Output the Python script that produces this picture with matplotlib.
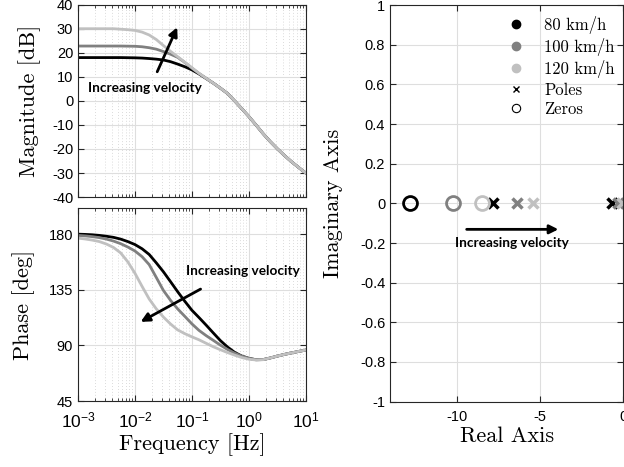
import numpy as np
import matplotlib
matplotlib.use("Agg")
import matplotlib.pyplot as plt
from matplotlib.ticker import FixedLocator, LogLocator, NullFormatter, FixedFormatter

plt.rcParams['font.family'] = ['Liberation Sans', 'DejaVu Sans']
plt.rcParams['mathtext.fontset'] = 'custom'
plt.rcParams['mathtext.rm'] = 'Liberation Sans'
plt.rcParams['mathtext.it'] = 'Liberation Sans:italic'
plt.rcParams['axes.unicode_minus'] = False

# ---- Bode data: log10 of frequency in Hz, 1/8-decade steps ----
log_freq = [-3.0, -2.875, -2.75, -2.625, -2.5, -2.375, -2.25, -2.125,
            -2.0, -1.875, -1.75, -1.625, -1.5, -1.375, -1.25, -1.125,
            -1.0, -0.875, -0.75, -0.625, -0.5, -0.375, -0.25, -0.125,
            0.0, 0.125, 0.25, 0.375, 0.5, 0.625, 0.75, 0.875, 1.0]

mag_80 = [18.0, 18.0, 18.0, 18.0, 18.0, 18.0, 18.0, 17.95,
          17.9, 17.8, 17.6, 17.35, 17.0, 16.3, 15.3, 14.2,
          12.9, 11.2, 9.3, 7.4, 5.3, 3.1, 0.0, -3.2,
          -6.5, -10.0, -13.6, -16.9, -19.9, -22.7, -25.3, -27.7, -30.0]
mag_100 = [22.8, 22.8, 22.8, 22.8, 22.8, 22.8, 22.8, 22.75,
           22.7, 22.5, 22.1, 21.5, 20.5, 19.4, 18.1, 16.0,
           13.6, 11.4, 9.4, 7.4, 5.3, 3.1, 0.0, -3.2,
           -6.5, -10.0, -13.6, -16.9, -19.9, -22.7, -25.3, -27.7, -30.0]
mag_120 = [30.0, 30.0, 30.0, 30.0, 30.0, 30.0, 29.8, 29.6,
           29.3, 28.6, 27.4, 25.5, 23.0, 20.6, 18.4, 16.1,
           13.8, 11.5, 9.4, 7.4, 5.3, 3.1, 0.0, -3.2,
           -6.5, -10.0, -13.6, -16.9, -19.9, -22.7, -25.3, -27.7, -30.0]

phase_80 = [180.0, 179.8, 179.5, 179.0, 178.3, 177.4, 176.0, 174.0,
            171.6, 168.2, 163.6, 156.8, 149.6, 141.6, 133.5, 125.8,
            118.5, 112.6, 106.5, 100.2, 94.0, 88.8, 84.5, 81.5,
            79.6, 78.5, 78.6, 79.9, 81.4, 82.8, 84.0, 85.2, 86.3]
phase_100 = [179.0, 178.6, 178.0, 177.2, 176.0, 174.4, 172.3, 169.6,
             166.4, 161.8, 155.4, 145.0, 134.5, 126.5, 119.6, 113.6,
             107.5, 102.2, 98.0, 94.2, 90.3, 86.8, 83.8, 81.4,
             79.7, 78.5, 78.6, 79.9, 81.4, 82.8, 84.0, 85.2, 86.3]
phase_120 = [176.8, 176.1, 175.2, 174.0, 172.0, 169.2, 164.8, 157.6,
             148.4, 137.8, 127.6, 119.6, 113.0, 107.4, 102.6, 99.6,
             97.0, 94.6, 91.8, 89.0, 86.6, 84.3, 82.2, 80.3,
             78.9, 78.3, 78.5, 79.9, 81.4, 82.8, 84.0, 85.2, 86.3]

# ---- Pole / zero locations (real axis) ----
zeros_80 = [-12.8]
zeros_100 = [-10.2]
zeros_120 = [-8.5]
poles_80 = [-7.8, -0.7]
poles_100 = [-6.4, -0.35]
poles_120 = [-5.45, -0.1]

speed_labels = ['80 km/h', '100 km/h', '120 km/h']
colors = ['#000000', '#808080', '#c0c0c0']

freq = 10.0 ** np.array(log_freq)

fig = plt.figure(figsize=(6.24, 4.67), dpi=100)
ax_mag = fig.add_axes([0.125, 0.578, 0.365, 0.412])
ax_ph = fig.add_axes([0.125, 0.141, 0.365, 0.414])
ax_pz = fig.add_axes([0.625, 0.140, 0.374, 0.849])

serif = dict(family='cmr10')
label_size = 16
tick_size = 10.5

def style_axes(ax):
    ax.tick_params(which='both', direction='in', top=True, right=True, labelsize=tick_size,
                   color='#262626')
    ax.tick_params(which='major', length=4)
    ax.tick_params(which='minor', length=2)
    for s in ax.spines.values():
        s.set_color('#262626')
        s.set_linewidth(0.8)
    ax.set_axisbelow(True)

for ax in (ax_mag, ax_ph):
    ax.set_xscale('log')
    ax.set_xlim(1e-3, 1e1)
    ax.xaxis.set_major_locator(LogLocator(base=10, numticks=10))
    ax.xaxis.set_minor_locator(LogLocator(base=10, subs=np.arange(2, 10), numticks=100))
    ax.xaxis.set_minor_formatter(NullFormatter())
    ax.grid(True, which='major', color='#dedede', lw=0.8, ls='-')
    ax.grid(True, which='minor', axis='x', color='#cfcfcf', lw=0.6, ls=(0, (1, 2.5)))
    style_axes(ax)

mags = [mag_80, mag_100, mag_120]
phases = [phase_80, phase_100, phase_120]
for m, c in zip(mags, colors):
    ax_mag.plot(freq, m, color=c, lw=2)
for p, c in zip(phases, colors):
    ax_ph.plot(freq, p, color=c, lw=2)

ax_mag.set_ylim(-40, 40)
ax_mag.set_yticks(np.arange(-40, 41, 10))
ax_mag.xaxis.set_major_formatter(NullFormatter())
ax_mag.set_ylabel('Magnitude [dB]', fontsize=label_size, labelpad=8, **serif)

ax_ph.set_ylim(45, 201.3)
ax_ph.set_yticks([45, 90, 135, 180])
ax_ph.xaxis.set_major_locator(FixedLocator([1e-3, 1e-2, 1e-1, 1e0, 1e1]))
ax_ph.xaxis.set_major_formatter(FixedFormatter([r'$10^{-3}$', r'$10^{-2}$', r'$10^{-1}$',
                                                r'$10^{0}$', r'$10^{1}$']))
ax_ph.tick_params(axis='x', which='major', labelsize=12.5, pad=7)
ax_ph.set_ylabel('Phase [deg]', fontsize=label_size, labelpad=10, **serif)
ax_ph.set_xlabel('Frequency [Hz]', fontsize=label_size, labelpad=2, **serif)

arrow_kw = dict(arrowstyle='-|>', color='k', lw=2, mutation_scale=13, shrinkA=0, shrinkB=0)
note_font = dict(family='Lato', weight='bold', fontsize=9.8)

ax_mag.annotate('', xy=(10 ** -1.258, 30.6), xytext=(10 ** -1.609, 12.1), arrowprops=arrow_kw)
ax_mag.text(10 ** -1.83, 5.2, 'Increasing velocity', ha='center', va='center', **note_font)

ax_ph.annotate('', xy=(10 ** -1.90, 109.1), xytext=(10 ** -0.847, 135.6), arrowprops=arrow_kw)
ax_ph.text(10 ** -0.105, 150.5, 'Increasing velocity', ha='center', va='center', **note_font)

# ---- Pole-zero map ----
zeros_all = [zeros_80, zeros_100, zeros_120]
poles_all = [poles_80, poles_100, poles_120]
for z, p, c in zip(zeros_all, poles_all, colors):
    ax_pz.plot(z, np.zeros(len(z)), ls='none', marker='o', ms=10, mfc='none', mec=c, mew=2)
    ax_pz.plot(p, np.zeros(len(p)), ls='none', marker='x', ms=7.5, mec=c, mew=2.5)

ax_pz.set_xlim(-14, 0)
ax_pz.set_ylim(-1, 1)
ax_pz.set_xticks([-10, -5, 0])
ax_pz.set_yticks(np.round(np.arange(-1, 1.01, 0.2), 1))
ax_pz.set_yticklabels(['-1', '-0.8', '-0.6', '-0.4', '-0.2', '0', '0.2', '0.4', '0.6', '0.8', '1'])
ax_pz.grid(True, which='major', color='#dedede', lw=0.8)
style_axes(ax_pz)
ax_pz.tick_params(axis='x', pad=6)
ax_pz.set_xlabel('Real Axis', fontsize=label_size, labelpad=2, **serif)
ax_pz.set_ylabel('Imaginary Axis', fontsize=label_size, labelpad=12, **serif)

ax_pz.annotate('', xy=(-3.9, -0.131), xytext=(-9.4, -0.131), arrowprops=arrow_kw)
ax_pz.text(-6.7, -0.20, 'Increasing velocity', ha='center', va='center', **note_font)

handles = []
for lab, c in zip(speed_labels, colors):
    h, = ax_pz.plot([], [], ls='none', marker='o', ms=6, color=c, label=lab)
    handles.append(h)
hp, = ax_pz.plot([], [], ls='none', marker='x', ms=5, mew=1, color='k', label='Poles')
hz, = ax_pz.plot([], [], ls='none', marker='o', ms=6, mfc='none', mec='k', mew=0.8, label='Zeros')
handles += [hp, hz]
ax_pz.legend(handles=handles, loc='upper left', bbox_to_anchor=(0.475, 0.99), frameon=False,
             prop={'family': 'cmr10', 'size': 12}, handletextpad=1.2, labelspacing=0.25,
             handlelength=1.0, borderaxespad=0.0)

fig.savefig('out.png', dpi=100)
